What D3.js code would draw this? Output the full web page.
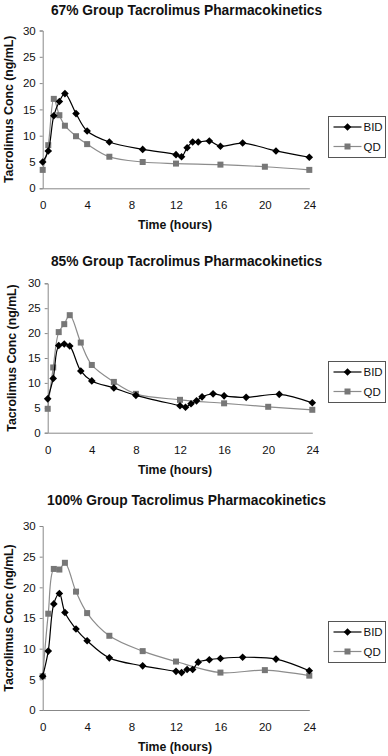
<!DOCTYPE html>
<html>
<head>
<meta charset="utf-8">
<script src="https://cdn.jsdelivr.net/npm/d3@7"></script>
<style>
  html, body { margin: 0; padding: 0; background: #fff; }
  svg { display: block; font-family: Arial, "Liberation Sans", sans-serif; }
</style>
</head>
<body>
<div id="chart"></div>
<script>
(function() {
    'use strict';

    // Sampling times (hours)
    const hoursBID = [0, 0.5, 1, 1.5, 2, 3, 4, 6, 9, 12, 12.5, 13, 13.5, 14, 15, 16, 18, 21, 24];
    const hoursQD = [0, 0.5, 1, 1.5, 2, 3, 4, 6, 9, 12, 16, 20, 24];
    const hoursBID85 = [0, 0.5, 1, 1.5, 2, 3, 4, 6, 8, 12, 12.5, 13, 13.5, 14, 15, 16, 18, 21, 24];
    const hoursQD85 = [0, 0.5, 1, 1.5, 2, 3, 4, 6, 8, 12, 16, 20, 24];

    // Tacrolimus concentrations (ng/mL)
    const bid67 = [5.0, 7.1, 13.8, 16.5, 18.0, 14.2, 10.9, 8.8, 7.4, 6.4, 6.0, 7.7, 8.8, 8.8, 9.0, 8.0, 8.6, 7.1, 5.9];
    const qd67 = [3.5, 8.2, 17.0, 13.9, 11.9, 9.9, 8.4, 6.0, 5.0, 4.7, 4.5, 4.1, 3.5];
    const bid85 = [6.8, 10.9, 17.5, 17.8, 17.4, 12.4, 10.4, 9.0, 7.5, 5.4, 5.1, 5.8, 6.4, 7.2, 7.8, 7.4, 7.1, 7.7, 6.0];
    const qd85 = [4.8, 13.1, 20.2, 21.8, 23.6, 18.1, 13.6, 10.2, 7.8, 6.6, 5.9, 5.2, 4.6];
    const bid100 = [5.5, 9.6, 17.3, 19.0, 15.9, 13.2, 11.3, 8.5, 7.2, 6.3, 6.1, 6.6, 6.6, 7.8, 8.2, 8.4, 8.6, 8.3, 6.4];
    const qd100 = [5.5, 15.7, 23.0, 22.9, 24.0, 19.3, 15.8, 12.1, 9.6, 7.9, 6.1, 6.5, 5.6];

    const xTicks = [0, 4, 8, 12, 16, 20, 24];
    const yTicks = [0, 5, 10, 15, 20, 25, 30];
    const seriesNames = ['BID', 'QD'];
    const titles = [
        '67% Group Tacrolimus Pharmacokinetics',
        '85% Group Tacrolimus Pharmacokinetics',
        '100% Group Tacrolimus Pharmacokinetics'
    ];

    const W = 388, H = 756;
    const svg = d3.select('#chart').append('svg')
        .attr('width', W)
        .attr('height', H);

    const zip = (xs, ys) => xs.map((x, i) => ({ t: x, v: ys[i] }));

    const panels = [
        { title: titles[0], bid: zip(hoursBID, bid67), qd: zip(hoursQD, qd67),
          left: 42.7, right: 309.3, top: 30.5, bottom: 188.3, titleY: 14.5, ylabX: 9, legTop: 116.5 },
        { title: titles[1], bid: zip(hoursBID85, bid85), qd: zip(hoursQD85, qd85),
          left: 47.7, right: 312.3, top: 283.3, bottom: 432.7, titleY: 265.5, ylabX: 12, legTop: 361.5 },
        { title: titles[2], bid: zip(hoursBID, bid100), qd: zip(hoursQD, qd100),
          left: 42.7, right: 309.3, top: 526, bottom: 710, titleY: 504.5, ylabX: 9, legTop: 621.5 }
    ];

    const axisColor = '#888';
    const bidColor = '#000';
    const qdLine = '#8c8c8c';
    const qdFill = '#777';

    const diamond = r => `M0,${-r}L${r},0L0,${r}L${-r},0Z`;

    panels.forEach(p => {
        const g = svg.append('g');
        const x = d3.scaleLinear().domain([0, 24]).range([p.left, p.right]);
        const y = d3.scaleLinear().domain([0, 30]).range([p.bottom, p.top]);

        // Title
        g.append('text')
            .attr('x', 186.5)
            .attr('y', p.titleY)
            .attr('text-anchor', 'middle')
            .attr('font-size', '13.8px')
            .attr('font-weight', 'bold')
            .attr('fill', '#111')
            .text(p.title);

        // Y axis
        const yAxis = g.append('g')
            .attr('transform', `translate(${p.left},0)`)
            .call(d3.axisLeft(y).tickValues(yTicks).tickSize(3).tickPadding(4));
        yAxis.select('.domain').attr('stroke', axisColor);
        yAxis.selectAll('.tick line').attr('stroke', axisColor);
        yAxis.selectAll('.tick text')
            .attr('font-size', '11.5px')
            .attr('fill', '#111')
            .attr('font-family', 'Arial, "Liberation Sans", sans-serif');

        // X axis
        const xAxis = g.append('g')
            .attr('transform', `translate(0,${p.bottom})`)
            .call(d3.axisBottom(x).tickValues(xTicks).tickSize(0).tickPadding(13));
        xAxis.select('.domain').attr('stroke', axisColor);
        xAxis.selectAll('.tick text')
            .attr('font-size', '11.5px')
            .attr('fill', '#111')
            .attr('font-family', 'Arial, "Liberation Sans", sans-serif');

        // Axis labels
        g.append('text')
            .attr('x', 175)
            .attr('y', p.bottom + 41)
            .attr('text-anchor', 'middle')
            .attr('font-size', '12.3px')
            .attr('font-weight', 'bold')
            .attr('fill', '#111')
            .text('Time (hours)');

        g.append('text')
            .attr('transform', `translate(${p.ylabX},${(p.top + p.bottom) / 2}) rotate(-90)`)
            .attr('text-anchor', 'middle')
            .attr('dy', '0.35em')
            .attr('font-size', '12.3px')
            .attr('font-weight', 'bold')
            .attr('fill', '#111')
            .text('Tacrolimus Conc (ng/mL)');

        const line = d3.line()
            .x(d => x(d.t))
            .y(d => y(d.v))
            .curve(d3.curveCatmullRom.alpha(0.5));

        // QD series
        g.append('path')
            .datum(p.qd)
            .attr('fill', 'none')
            .attr('stroke', qdLine)
            .attr('stroke-width', 1.2)
            .attr('d', line);
        g.selectAll('.qd').data(p.qd).enter().append('rect')
            .attr('class', 'qd')
            .attr('x', d => x(d.t) - 3)
            .attr('y', d => y(d.v) - 3)
            .attr('width', 6)
            .attr('height', 6)
            .attr('fill', qdFill);

        // BID series
        g.append('path')
            .datum(p.bid)
            .attr('fill', 'none')
            .attr('stroke', bidColor)
            .attr('stroke-width', 1.2)
            .attr('d', line);
        g.selectAll('.bid').data(p.bid).enter().append('path')
            .attr('class', 'bid')
            .attr('transform', d => `translate(${x(d.t)},${y(d.v)})`)
            .attr('d', diamond(3.8))
            .attr('fill', bidColor);

        // Legend
        const leg = g.append('g').attr('transform', `translate(328.5,${p.legTop})`);
        leg.append('rect')
            .attr('width', 57)
            .attr('height', 41)
            .attr('fill', '#fff')
            .attr('stroke', '#555')
            .attr('stroke-width', 1);
        seriesNames.forEach((name, i) => {
            const ly = 10.5 + i * 19.5;
            const isBid = name === 'BID';
            leg.append('line')
                .attr('x1', 5).attr('x2', 33)
                .attr('y1', ly).attr('y2', ly)
                .attr('stroke', isBid ? bidColor : qdLine)
                .attr('stroke-width', 1.2);
            if (isBid) {
                leg.append('path')
                    .attr('transform', `translate(19,${ly})`)
                    .attr('d', diamond(3.8))
                    .attr('fill', bidColor);
            } else {
                leg.append('rect')
                    .attr('x', 16).attr('y', ly - 3)
                    .attr('width', 6).attr('height', 6)
                    .attr('fill', qdFill);
            }
            leg.append('text')
                .attr('x', 35)
                .attr('y', ly)
                .attr('dy', '0.35em')
                .attr('font-size', '11.5px')
                .attr('fill', '#111')
                .text(name);
        });
    });
})();
</script>
</body>
</html>
